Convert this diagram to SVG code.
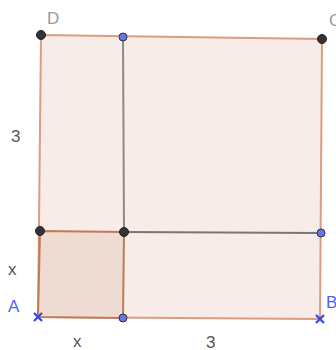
<svg xmlns="http://www.w3.org/2000/svg" width="336" height="350" viewBox="0 0 336 350">
<style>
.lbl{font-family:"Liberation Sans",Arial,sans-serif;font-size:17px}
.dark{fill:#555}
.grey{fill:#9a9a9a}
.blue{fill:#4d5fff}
.pt{fill:#333;stroke:#222;stroke-width:1}
.bpt{fill:#6673ee;stroke:#333;stroke-width:1}
.cross{stroke:#3344ee;stroke-width:2.2;fill:none}
</style>
<rect width="336" height="350" fill="#ffffff"/>
<g id="outer-square">
<polygon points="38,317 320,319 322,39 41,35" fill="#f7ece8" stroke="#dc9c80" stroke-width="2"/>
</g>
<g id="small-square">
<polygon points="38,317 123,318 124,232 40,231" fill="#eedcd2" stroke="#c07a55" stroke-width="2"/>
</g>
<g id="connectors">
<line x1="123" y1="37" x2="124" y2="232" stroke="#8a8a8a" stroke-width="2"/>
<line x1="124" y1="232" x2="321" y2="233" stroke="#777" stroke-width="2"/>
</g>
<g id="points">
<circle id="D" class="pt" cx="41" cy="35" r="4.5"/>
<circle id="C" class="pt" cx="322" cy="39" r="4.5"/>
<circle id="P1" class="pt" cx="40" cy="231" r="4.5"/>
<circle id="P2" class="pt" cx="124" cy="232" r="4.5"/>
<circle id="P3" class="bpt" cx="123" cy="37" r="4"/>
<circle id="P4" class="bpt" cx="321" cy="233" r="4"/>
<circle id="P5" class="bpt" cx="123" cy="318" r="4"/>
<path id="A" class="cross" d="M34,313 L42,321 M42,313 L34,321"/>
<path id="B" class="cross" d="M316,315 L324,323 M324,315 L316,323"/>
</g>
<g id="labels">
<text class="lbl grey" x="47" y="24">D</text>
<text class="lbl grey" x="329" y="26">C</text>
<text class="lbl blue" x="8" y="312">A</text>
<text class="lbl blue" x="326" y="308">B</text>
<text class="lbl dark" x="11" y="142">3</text>
<text class="lbl dark" x="8" y="275">x</text>
<text class="lbl dark" x="73" y="347">x</text>
<text class="lbl dark" x="206" y="348">3</text>
</g>
</svg>
